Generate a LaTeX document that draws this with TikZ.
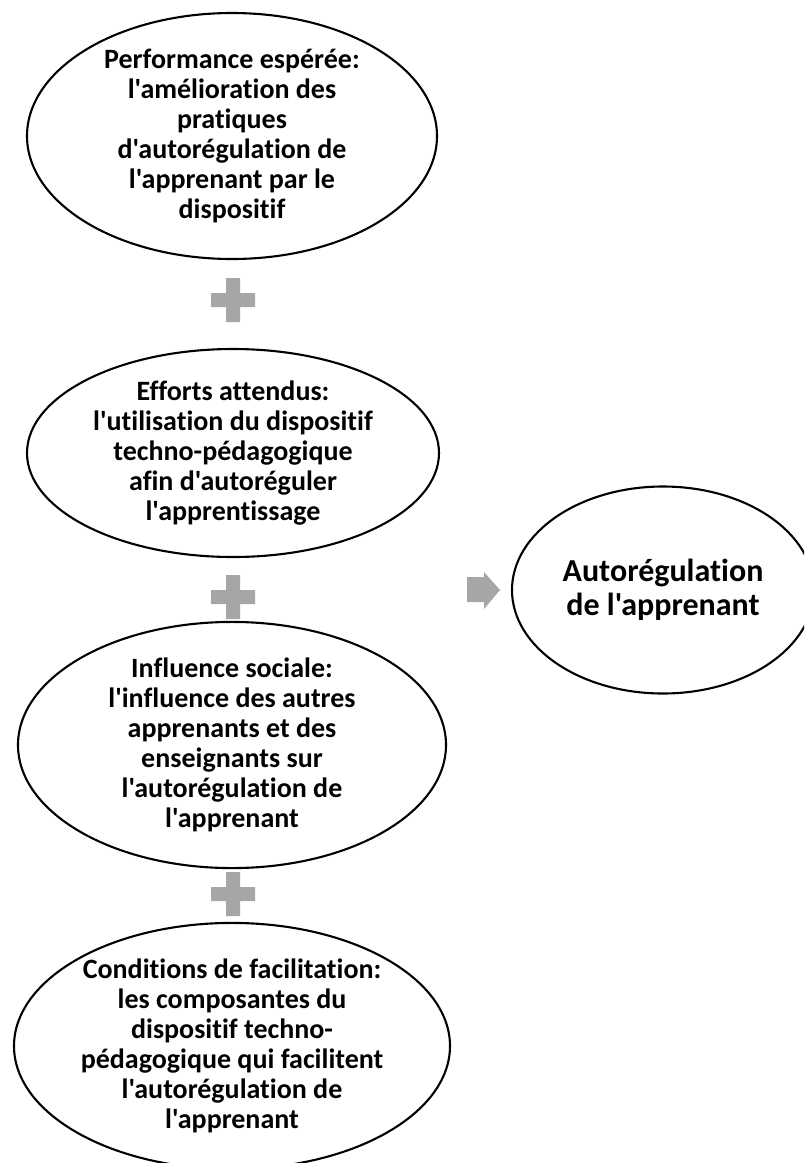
\documentclass[tikz,border=0pt]{standalone}
\usepackage{fontspec}
\newfontfamily\calib{Carlito}[Ligatures={NoCommon}]
\usetikzlibrary{shapes.geometric}
\definecolor{plusgray}{HTML}{A6A6A6}
\tikzset{
  oval/.style={ellipse, draw=black, line width=2.1pt, inner sep=0pt, align=center,
    font=\calib\bfseries\fontsize{28}{30}\selectfont},
  bigoval/.style={oval, font=\calib\bfseries\fontsize{32}{34}\selectfont},
  plussign/.style={fill=plusgray, draw=none},
}
\newcommand{\plusat}[2]{% center x, y
  \fill[plussign] (#1-7,#2-22) -- (#1+7,#2-22) -- (#1+7,#2-7) -- (#1+22,#2-7) -- (#1+22,#2+7)
    -- (#1+7,#2+7) -- (#1+7,#2+22) -- (#1-7,#2+22) -- (#1-7,#2+7) -- (#1-22,#2+7)
    -- (#1-22,#2-7) -- (#1-7,#2-7) -- cycle;}
\begin{document}
\begin{tikzpicture}[x=1pt,y=-1pt]
\clip (0,0) rectangle (804,1163);
\fill[white] (0,0) rectangle (804,1163);

\node[oval, minimum width=410pt, minimum height=246pt] (perf) at (232,136)
  {Performance espérée:\\l'amélioration des\\pratiques\\d'autorégulation de\\l'apprenant par le\\dispositif};
\node[oval, minimum width=412pt, minimum height=208pt] (eff) at (233,453)
  {Efforts attendus:\\l'utilisation du dispositif\\techno-pédagogique\\afin d'autoréguler\\l'apprentissage};
\node[oval, minimum width=428pt, minimum height=222pt] (infl) at (232,745)
  {Influence sociale:\\l'influence des autres\\apprenants et des\\enseignants sur\\l'autorégulation de\\l'apprenant};
\node[oval, minimum width=436pt, minimum height=232pt] (cond) at (232,1046)
  {Conditions de facilitation:\\les composantes du\\dispositif techno-\\pédagogique qui facilitent\\l'autorégulation de\\l'apprenant};
\node[bigoval, minimum width=302pt, minimum height=207pt] (auto) at (663,590)
  {Autorégulation\\de l'apprenant};

\plusat{233}{300}
\plusat{233}{597}
\plusat{233}{894}

\coordinate (arrowtip) at (500,590);
\fill[plussign] (467,577) -- (484,577) -- (484,572) -- (arrowtip) -- (484,609) -- (484,602) -- (467,602) -- cycle;
\end{tikzpicture}
\end{document}
